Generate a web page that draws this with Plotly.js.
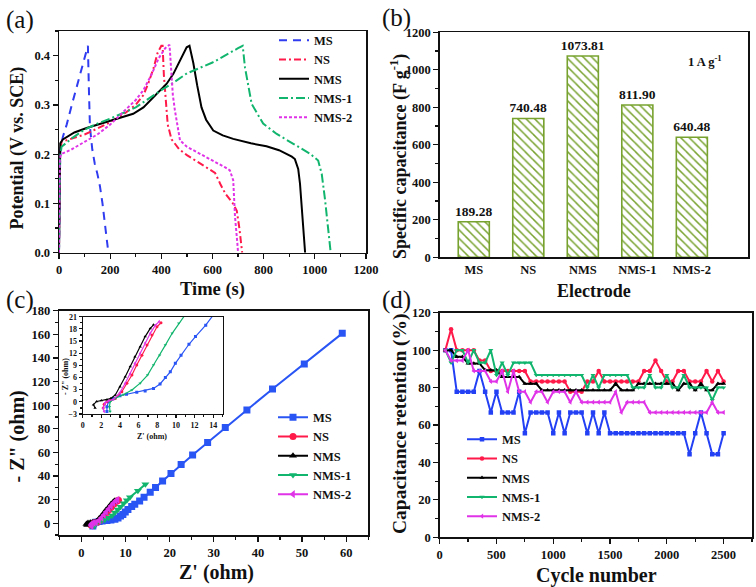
<!DOCTYPE html>
<html><head><meta charset="utf-8">
<script src="https://cdn.plot.ly/plotly-3.0.1.min.js"></script>
<style>html,body{margin:0;padding:0;background:#fff}#chart{width:756px;height:587px}</style>
</head><body><div id="chart"></div>
<script>
// ---------- (a) Galvanostatic charge-discharge ----------
const gcdMS_t   = [0, 2, 5, 15, 30, 50, 70, 90, 110, 113, 117, 121, 130, 140, 150, 160, 170, 178, 186, 193];
const gcdMS_V   = [0, 0.17, 0.21, 0.235, 0.26, 0.3, 0.34, 0.38, 0.42, 0.42, 0.33, 0.255, 0.21, 0.18, 0.16, 0.135, 0.1, 0.07, 0.03, 0];
const gcdNS_t   = [0, 3, 10, 50, 100, 150, 200, 250, 300, 330, 350, 370, 385, 400, 405, 410, 418, 425, 440, 470, 500, 550, 590, 610, 630, 650, 680, 695, 705, 712, 716];
const gcdNS_V   = [0, 0.2, 0.225, 0.232, 0.24, 0.252, 0.265, 0.28, 0.3, 0.32, 0.345, 0.375, 0.405, 0.42, 0.42, 0.36, 0.3, 0.26, 0.23, 0.21, 0.198, 0.182, 0.17, 0.162, 0.14, 0.12, 0.1, 0.085, 0.05, 0.02, 0];
const gcdNMS_t  = [0, 2, 5, 15, 30, 60, 108, 160, 199, 250, 290, 330, 369, 421, 447, 479, 499, 510, 525, 540, 557, 575, 603, 640, 681, 750, 811, 860, 890, 910, 922, 930, 935, 942, 952, 962];
const gcdNMS_V  = [0, 0.2, 0.222, 0.23, 0.235, 0.244, 0.253, 0.261, 0.267, 0.275, 0.282, 0.295, 0.316, 0.343, 0.363, 0.397, 0.417, 0.42, 0.385, 0.34, 0.295, 0.27, 0.248, 0.238, 0.231, 0.222, 0.216, 0.208, 0.2, 0.195, 0.19, 0.18, 0.17, 0.14, 0.073, 0];
const gcdNMS1_t = [0, 3, 10, 50, 100, 150, 200, 300, 400, 450, 500, 600, 700, 718, 727, 753, 798, 851, 916, 981, 1013, 1027, 1040, 1053, 1062];
const gcdNMS1_V = [0, 0.19, 0.215, 0.232, 0.25, 0.262, 0.272, 0.295, 0.33, 0.346, 0.364, 0.386, 0.415, 0.42, 0.376, 0.302, 0.262, 0.241, 0.221, 0.201, 0.187, 0.16, 0.107, 0.039, 0];
const gcdNMS2_t = [0, 3, 8, 50, 100, 150, 200, 250, 300, 330, 360, 390, 415, 432, 438, 445, 453, 473, 500, 551, 600, 650, 668, 681, 688, 693, 697, 700];
const gcdNMS2_V = [0, 0.19, 0.2, 0.21, 0.225, 0.24, 0.26, 0.285, 0.31, 0.33, 0.36, 0.395, 0.415, 0.422, 0.38, 0.32, 0.289, 0.228, 0.215, 0.201, 0.187, 0.173, 0.167, 0.147, 0.073, 0.05, 0.02, 0];

// ---------- (b) Specific capacitance ----------
const electrodes = ["MS", "NS", "NMS", "NMS-1", "NMS-2"];
const capacitance = [189.28, 740.48, 1073.81, 811.90, 640.48];
const capLabels = ["189.28", "740.48", "1073.81", "811.90", "640.48"];

// ---------- (c) Nyquist ----------
const eisMS_x   = [2.6, 2.6, 2.76, 3.3, 4.0, 4.7, 5.8, 6.7, 7.6, 8.3, 8.87, 9.4, 9.94, 10.55, 11.4, 12.1, 13.2, 14.2, 15.6, 16.8, 18.4, 20.3, 22.6, 25.2, 28.6, 32.6, 37.5, 43.3, 50.5, 59.1];
const eisMS_y   = [-2.4, -1.2, 0, 0.8, 1.5, 1.85, 2.35, 2.7, 3.3, 4.4, 6.0, 7.4, 9.5, 11.5, 14.2, 16.1, 18.9, 22.0, 26.2, 30.2, 35.8, 42.0, 49.7, 57.8, 68.3, 81.0, 95.9, 113.7, 134.9, 160.8];
const eisNS_x   = [2.2, 2.3, 2.6, 3.0, 3.5, 4.2, 4.74, 5.28, 5.8, 6.35, 6.9, 7.43, 7.97, 8.4];
const eisNS_y   = [-1.5, -0.6, 0, 0.4, 0.8, 2.5, 4.6, 6.6, 9.1, 11.5, 14.0, 16.5, 18.5, 19.5];
const eisNMS_x  = [1.33, 1.15, 1.5, 2.0, 2.6, 3.0, 3.5, 4.0, 4.56, 5.1, 5.6, 6.17, 6.7, 7.25, 7.6];
const eisNMS_y  = [-1.5, -0.7, 0.1, 0.3, 0.5, 0.8, 1.7, 3.7, 6.2, 8.7, 11.1, 13.6, 16.1, 18.1, 19.0];
const eisNMS1_x = [2.94, 2.87, 2.94, 3.5, 4.4, 5.28, 6.17, 6.96, 7.6, 8.26, 8.87, 9.6, 10.3, 11.0, 12.8, 14.5];
const eisNMS1_y = [-2.4, -1.2, 0, 0.9, 1.8, 2.9, 4.6, 6.6, 9.1, 11.5, 14.0, 16.9, 19.4, 22.0, 27.4, 33.0];
const eisNMS2_x = [2.3, 2.2, 2.4, 2.8, 3.3, 4.0, 4.56, 5.1, 5.6, 6.17, 6.7, 7.25, 7.8, 8.2];
const eisNMS2_y = [-2.4, -1.6, -0.2, 0.3, 0.6, 2.3, 4.6, 7.0, 9.5, 12.0, 14.5, 16.9, 18.9, 19.8];

// ---------- (d) Cycling stability ----------
const cycles = [50,100,150,200,250,300,350,400,450,500,550,600,650,700,750,800,850,900,950,1000,
  1050,1100,1150,1200,1250,1300,1350,1400,1450,1500,1550,1600,1650,1700,1750,1800,1850,1900,1950,2000,
  2050,2100,2150,2200,2250,2300,2350,2400,2450,2500];
const retMS = [100,100,77.8,77.8,77.8,77.8,88.9,77.8,66.7,77.8,66.7,66.7,66.7,77.8,55.6,66.7,66.7,66.7,66.7,55.6,
  66.7,55.6,66.7,66.7,66.7,55.6,66.7,55.6,66.7,55.6,55.6,55.6,55.6,55.6,55.6,55.6,55.6,55.6,55.6,55.6,
  55.6,55.6,55.6,44.4,55.6,66.7,55.6,44.4,44.4,55.6];
const retNS = [100,111.1,100,100,100,100,94.4,94.4,88.9,88.9,88.9,88.9,88.9,88.9,88.9,83.3,83.3,83.3,83.3,83.3,
  83.3,83.3,77.8,77.8,77.8,83.3,83.3,88.9,83.3,83.3,83.3,83.3,83.3,83.3,83.3,88.9,88.9,94.4,88.9,83.3,
  83.3,88.9,88.9,83.3,83.3,83.3,88.9,83.3,88.9,83.3];
const retNMS = [100,100,96.4,96.4,92.9,92.9,92.9,89.3,89.3,89.3,85.7,85.7,85.7,85.7,82.1,82.1,82.1,78.6,78.6,78.6,
  78.6,78.6,78.6,78.6,78.6,78.6,78.6,78.6,78.6,78.6,82.1,78.6,78.6,78.6,82.1,82.1,82.1,82.1,82.1,82.1,
  82.1,78.6,82.1,82.1,78.6,82.1,78.6,78.6,82.1,82.1];
const retNMS1 = [100,93.3,100,100,93.3,100,93.3,93.3,100,86.7,93.3,86.7,93.3,93.3,93.3,93.3,86.7,86.7,86.7,86.7,
  86.7,86.7,86.7,86.7,86.7,80,86.7,80,86.7,86.7,86.7,86.7,86.7,80,80,80,86.7,80,80,86.7,
  80,80,86.7,80,80,80,80,73.3,80,80];
const retNMS2 = [100,94.4,94.4,94.4,100,88.9,88.9,88.9,83.3,83.3,88.9,77.8,88.9,77.8,77.8,72.2,77.8,77.8,72.2,77.8,
  77.8,77.8,72.2,77.8,72.2,72.2,72.2,72.2,72.2,72.2,77.8,66.7,72.2,72.2,72.2,72.2,66.7,66.7,66.7,66.7,
  66.7,66.7,66.7,66.7,66.7,66.7,66.7,72.2,66.7,66.7];

const seriesNames = ["MS", "NS", "NMS", "NMS-1", "NMS-2"];
const colA = ["#2f3cf0", "#ff1a4a", "#000000", "#12b56e", "#e033e8"];
const colC = ["#2a55f5", "#ff1a4a", "#000000", "#12b56e", "#e033e8"];
const FONT = "Liberation Serif, Times New Roman, serif";
const GREEN = "#78a22f";

const px = v => v / 756;
const py = v => 1 - v / 587;

const traces = [];
// (a)
const gcdT = [gcdMS_t, gcdNS_t, gcdNMS_t, gcdNMS1_t, gcdNMS2_t];
const gcdV = [gcdMS_V, gcdNS_V, gcdNMS_V, gcdNMS1_V, gcdNMS2_V];
const dashes = ["8px,6px", "7px,3px,2px,3px", "solid", "9px,3px,2px,3px", "3px,2px"];
for (let i = 0; i < 5; i++) {
  traces.push({x: gcdT[i], y: gcdV[i], type: "scatter", mode: "lines", name: seriesNames[i],
    line: {color: colA[i], width: 2, dash: dashes[i]}, xaxis: "x", yaxis: "y", legend: "legend"});
}
// (b)
traces.push({x: electrodes, y: capacitance, type: "bar", width: 0.57, text: capLabels,
  textposition: "outside", texttemplate: "%{text}", cliponaxis: false, constraintext: "none",
  textfont: {family: FONT, size: 13.5, color: "#111", weight: "bold"},
  marker: {color: "white", line: {color: GREEN, width: 1.6},
    pattern: {shape: "\\", fgcolor: GREEN, bgcolor: "white", size: 6, solidity: 0.25, fillmode: "replace"}},
  xaxis: "x2", yaxis: "y2", showlegend: false});
// (c)
const eisX = [eisMS_x, eisNS_x, eisNMS_x, eisNMS1_x, eisNMS2_x];
const eisY = [eisMS_y, eisNS_y, eisNMS_y, eisNMS1_y, eisNMS2_y];
const symC = ["square", "circle", "triangle-up", "triangle-down", "triangle-left"];
for (let i = 0; i < 5; i++) {
  traces.push({x: eisX[i], y: eisY[i], type: "scatter", mode: "lines+markers", name: seriesNames[i],
    line: {color: colC[i], width: 2}, marker: {symbol: symC[i], size: 7, color: colC[i]},
    xaxis: "x3", yaxis: "y3", legend: "legend2"});
}
for (let i = 0; i < 5; i++) {
  traces.push({x: eisX[i], y: eisY[i], type: "scatter", mode: "lines+markers", name: seriesNames[i],
    line: {color: colC[i], width: 1.2}, marker: {symbol: symC[i], size: 3, color: colC[i]},
    xaxis: "x5", yaxis: "y5", showlegend: false});
}
// (d)
const retY = [retMS, retNS, retNMS, retNMS1, retNMS2];
const colD = ["#2340f5", "#ff1a4a", "#000000", "#12b56e", "#e033e8"];
for (let i = 0; i < 5; i++) {
  traces.push({x: cycles, y: retY[i], type: "scatter", mode: "lines+markers", name: seriesNames[i],
    line: {color: colD[i], width: 2}, marker: {symbol: symC[i], size: 4.5, color: colD[i]},
    xaxis: "x4", yaxis: "y4", legend: "legend3"});
}

const tickF = {family: FONT, size: 12.5, color: "#111", weight: "bold"};
function ax(extra) {
  return Object.assign({showline: true, linecolor: "#111", linewidth: 1.5, mirror: true,
    ticks: "outside", ticklen: 5, tickwidth: 1.2, tickcolor: "#111", showgrid: false, zeroline: false,
    tickfont: tickF, fixedrange: true}, extra);
}
const legF = {family: FONT, size: 12.5, color: "#111", weight: "bold"};
const smallTick = {family: FONT, size: 8, color: "#111", weight: "bold"};

const layout = {
  width: 756, height: 587, margin: {l: 0, r: 0, t: 0, b: 0},
  paper_bgcolor: "white", plot_bgcolor: "rgba(0,0,0,0)",
  font: {family: FONT},
  xaxis:  ax({domain: [px(59), px(366)], anchor: "y", range: [0, 1200], dtick: 200,
          minor: {dtick: 100, ticklen: 3, ticks: "outside", tickcolor: "#111"}}),
  yaxis:  ax({domain: [py(252.7), py(31)], anchor: "x", range: [0, 0.45], dtick: 0.1, tickformat: ".1f",
          minor: {dtick: 0.05, ticklen: 3, ticks: "outside", tickcolor: "#111"}}),
  xaxis2: ax({domain: [px(439.7), px(748)], anchor: "y2", type: "category", range: [-0.625, 5.03], ticks: ""}),
  yaxis2: ax({domain: [py(257.3), py(32.3)], anchor: "x2", range: [0, 1200], dtick: 200,
          minor: {dtick: 100, ticklen: 3, ticks: "outside", tickcolor: "#111"}}),
  xaxis3: ax({domain: [px(59.3), px(368.3)], anchor: "y3", range: [-5, 65], dtick: 10, tick0: 0,
          minor: {dtick: 5, ticklen: 3, ticks: "outside", tickcolor: "#111"}}),
  yaxis3: ax({domain: [py(535), py(310.7)], anchor: "x3", range: [-10, 180], dtick: 20, tick0: 0,
          minor: {dtick: 10, ticklen: 3, ticks: "outside", tickcolor: "#111"}}),
  xaxis4: ax({domain: [px(439.7), px(752)], anchor: "y4", range: [0, 2750], dtick: 500,
          minor: {dtick: 250, ticklen: 3, ticks: "outside", tickcolor: "#111"}}),
  yaxis4: ax({domain: [py(537.3), py(312.7)], anchor: "x4", range: [0, 120], dtick: 20,
          minor: {dtick: 10, ticklen: 3, ticks: "outside", tickcolor: "#111"}}),
  xaxis5: ax({domain: [px(82.7), px(222.5)], anchor: "y5", range: [0, 15], dtick: 2, linewidth: 1.2,
          ticklen: 3, tickfont: smallTick,
          minor: {dtick: 1, ticklen: 2, ticks: "outside", tickcolor: "#111"}}),
  yaxis5: ax({domain: [py(414), py(316.7)], anchor: "x5", range: [-3, 21], dtick: 3, tick0: 0, linewidth: 1.2,
          ticklen: 3, tickfont: smallTick,
          minor: {dtick: 1.5, ticklen: 2, ticks: "outside", tickcolor: "#111"}}),
  legend:  {x: px(274), y: py(79), xanchor: "left", yanchor: "middle", bgcolor: "rgba(0,0,0,0)", font: legF, itemwidth: 30},
  legend2: {x: px(273), y: py(456), xanchor: "left", yanchor: "middle", bgcolor: "rgba(0,0,0,0)", font: legF, itemwidth: 30},
  legend3: {x: px(462), y: py(478), xanchor: "left", yanchor: "middle", bgcolor: "rgba(0,0,0,0)", font: legF, itemwidth: 30},
  annotations: []
};

function ann(text, x, y, size, opts) {
  layout.annotations.push(Object.assign({text: text, x: px(x), y: py(y), xref: "paper", yref: "paper",
    showarrow: false, xanchor: "center", yanchor: "middle",
    font: {family: FONT, size: size, color: "#111", weight: "bold"}}, opts || {}));
}
const plainF = s => ({font: {family: FONT, size: s, color: "#111", weight: "normal"}});
ann("(a)", 20, 20, 25, plainF(25));
ann("(b)", 396, 18, 25, plainF(25));
ann("(c)", 20, 300, 25, plainF(25));
ann("(d)", 396, 300, 25, plainF(25));
ann("Potential (V vs. SCE)", 17.5, 148, 18, {textangle: -90});
ann("Time (s)", 212.5, 290, 18.5);
ann("Specific capacitance (F g<sup>-1</sup>)", 399, 157, 18, {textangle: -90});
ann("Electrode", 594, 291, 18);
ann("1 A g<sup>-1</sup>", 705, 61, 12.5);
ann("- Z\" (ohm)", 16.5, 437, 20, {textangle: -90});
ann("Z' (ohm)", 216, 572, 20);
ann("Z' (ohm)", 152, 436, 8);
ann("- Z\" (ohm)", 65, 377, 8, {textangle: -90});
ann("Capacitance retention (%)", 400, 424, 19.5, {textangle: -90});
ann("Cycle number", 596, 575, 20);

Plotly.newPlot("chart", traces, layout, {staticPlot: true, displayModeBar: false});
</script></body></html>
